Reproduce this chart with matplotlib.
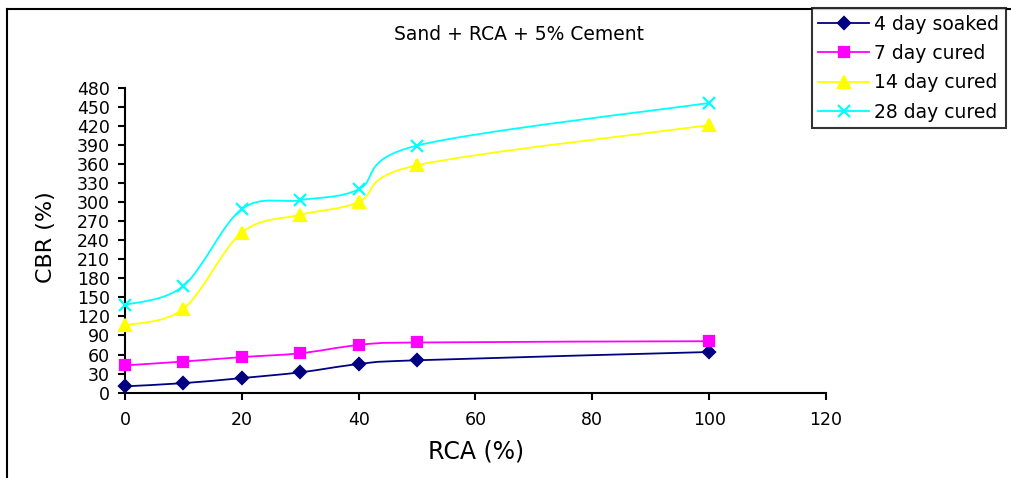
import matplotlib.pyplot as plt
from matplotlib.path import Path
from matplotlib.patches import PathPatch
from matplotlib.lines import Line2D

plt.rcParams['font.family'] = ['DejaVu Sans']

rca = [0, 10, 20, 30, 40, 50, 100]
soaked_4 = [10, 15, 23, 32, 45, 51, 64]
cured_7 = [43, 49, 56, 62, 75, 79, 81]
cured_14 = [106, 132, 252, 280, 300, 358, 421]
cured_28 = [138, 168, 289, 303, 320, 389, 456]

labels = ["4 day soaked", "7 day cured", "14 day cured", "28 day cured"]
colors = ["#000080", "#FF00FF", "#FFFF00", "#00FFFF"]
markers = ["D", "s", "^", "x"]
msizes = [6.5, 7, 8.5, 9]

xticks = [0, 20, 40, 60, 80, 100, 120]
yticks = list(range(0, 481, 30))


def smooth_path(xs, ys):
    # Excel-like smoothed line: cubic Bezier segments through each point
    pts = list(zip(xs, ys))
    verts = [pts[0]]
    codes = [Path.MOVETO]
    n = len(pts)
    for i in range(n - 1):
        p0 = pts[i - 1] if i > 0 else pts[i]
        p1 = pts[i]
        p2 = pts[i + 1]
        p3 = pts[i + 2] if i + 2 < n else pts[i + 1]
        c1 = (p1[0] + (p2[0] - p0[0]) / 6, p1[1] + (p2[1] - p0[1]) / 6)
        c2 = (p2[0] - (p3[0] - p1[0]) / 6, p2[1] - (p3[1] - p1[1]) / 6)
        verts += [c1, c2, p2]
        codes += [Path.CURVE4] * 3
    return Path(verts, codes)


fig = plt.figure(figsize=(10.11, 4.78), dpi=100)
ax = fig.add_axes([0.1236, 0.1785, 0.6934, 0.638])

handles = []
for ys, lab, col, mk, ms in zip([soaked_4, cured_7, cured_14, cured_28], labels, colors, markers, msizes):
    ax.add_patch(PathPatch(smooth_path(rca, ys), facecolor='none', edgecolor=col, lw=1.3, zorder=2))
    ax.plot(rca, ys, linestyle='none', marker=mk, color=col, markersize=ms, mew=1.6, zorder=3, clip_on=False)
    handles.append(Line2D([], [], color=col, lw=1.3, marker=mk, markersize=ms, mew=1.6))

ax.set_xlim(0, 120)
ax.set_ylim(0, 480)
ax.set_xticks(xticks)
ax.set_yticks(yticks)
ax.spines['top'].set_visible(False)
ax.spines['right'].set_visible(False)
ax.spines['left'].set_linewidth(1.5)
ax.spines['bottom'].set_linewidth(1.5)
ax.tick_params(axis='y', length=5, width=1.5, pad=6, labelsize=12.5)
ax.tick_params(axis='x', length=5, width=1.5, pad=8, labelsize=12.5)

fig.text(476 / 1011, 1 - 452 / 478, "RCA (%)", fontsize=17, ha='center', va='center')
fig.text(46 / 1011, 1 - 237 / 478, "CBR (%)", fontsize=16, ha='center', va='center', rotation=90)
fig.text(519 / 1011, 1 - 35 / 478, "Sand + RCA + 5% Cement", fontsize=13.5, ha='center', va='center')

# outer chart border (top and left only visible)
fig.add_artist(Line2D([7 / 1011, 7 / 1011], [0, 1 - 9 / 478], color='black', lw=1.5))
fig.add_artist(Line2D([7 / 1011, 1], [1 - 9 / 478, 1 - 9 / 478], color='black', lw=1.5))

leg = fig.legend(handles, labels, loc='upper right', bbox_to_anchor=(1006 / 1011, 1 - 8 / 478),
                 fontsize=13.5, frameon=True, fancybox=False, handlelength=2.7,
                 labelspacing=0.55, borderpad=0.35, handletextpad=0.3, borderaxespad=0)
leg.get_frame().set_edgecolor('black')
leg.get_frame().set_linewidth(1.5)

fig.savefig("out.png", dpi=100)
